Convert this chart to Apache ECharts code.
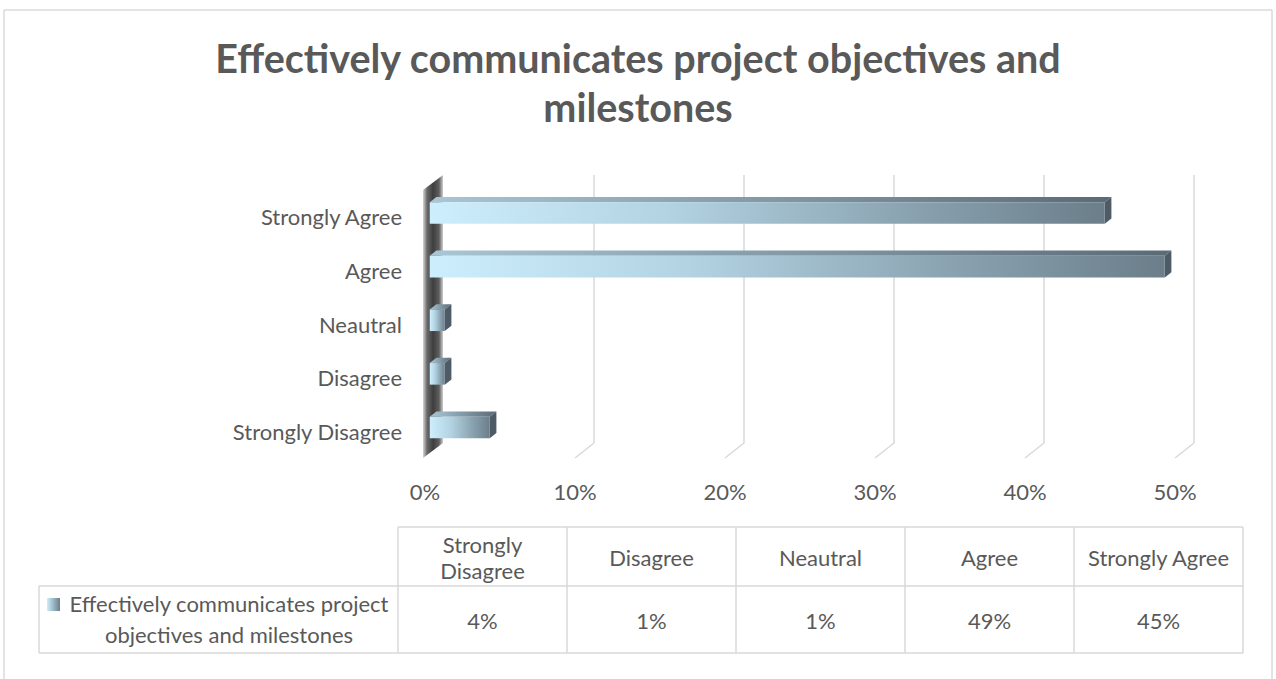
<!DOCTYPE html>
<html><head><meta charset="utf-8">
<script src="https://cdn.jsdelivr.net/npm/echarts@6/dist/echarts.min.js"></script>
<style>html,body{margin:0;padding:0;background:#fff;}#c{width:1276px;height:679px;}</style>
</head><body><div id="c"></div>
<script>
// ---- data ----
const categories = ['Strongly Disagree', 'Disagree', 'Neautral', 'Agree', 'Strongly Agree'];
const values = [0.04, 0.01, 0.01, 0.49, 0.45];
const ticks = [0, 0.1, 0.2, 0.3, 0.4, 0.5];
const seriesName = 'Effectively communicates project objectives and milestones';
const titleText = 'Effectively communicates project objectives and\nmilestones';
const tableHeader = ['Strongly\nDisagree', 'Disagree', 'Neautral', 'Agree', 'Strongly Agree'];
const legendText = 'Effectively communicates project\nobjectives and milestones';

// ---- style ----
const FONT = 'Lato';
const TXT = '#595959';
const GRIDC = '#d9d9d9';
const DX = 19, DY = 15;          // 3D depth of the plot box
const D1 = 0.25, D2 = 0.6;       // bar depth range (fraction)
const BAR_H = 10.8;              // half height of bar front face
const pct = v => Math.round(v * 100) + '%';

const chart = echarts.init(document.getElementById('c'), null, {renderer: 'svg'});

function renderGrid(params, api) {
  const cs = params.coordSys;
  const v = api.value(0);
  if (v === 0) return null;
  const px = api.coord([v, 0])[0];
  const top = cs.y, bot = cs.y + cs.height;
  return {
    type: 'polyline',
    shape: {points: [[px + DX, top - DY], [px + DX, bot - DY], [px, bot]]},
    style: {stroke: GRIDC, lineWidth: 1.5, fill: null}
  };
}

function renderWall(params, api) {
  const cs = params.coordSys;
  const x0 = api.coord([0, 0])[0] - 2;
  const top = cs.y, bot = cs.y + cs.height;
  return {
    type: 'polygon',
    shape: {points: [[x0, top], [x0 + DX + 1, top - DY], [x0 + DX + 1, bot - DY], [x0, bot]]},
    style: {
      fill: new echarts.graphic.LinearGradient(0, 0, 1, 0, [
        {offset: 0, color: '#d6d6d6'},
        {offset: 0.2, color: '#6a6a6a'},
        {offset: 0.5, color: '#3e3e3e'},
        {offset: 0.8, color: '#5e5e5e'},
        {offset: 1, color: '#cfcfcf'}
      ])
    }
  };
}

function renderBar(params, api) {
  const ci = api.value(0), v = api.value(1);
  const p0 = api.coord([0, ci]), p1 = api.coord([v, ci]);
  const fx = DX * D1, fy = -DY * D1;
  const bx = DX * (D2 - D1), by = -DY * (D2 - D1);
  const x0 = p0[0] + fx, x1 = p1[0] + fx, yc = p0[1] + fy;
  const yt = yc - BAR_H, yb = yc + BAR_H;
  return {
    type: 'group',
    children: [
      {type: 'polygon', shape: {points: [[x0, yt], [x1, yt], [x1 + bx, yt + by], [x0 + bx, yt + by]]},
       style: {fill: new echarts.graphic.LinearGradient(0, 0, 1, 0, [
         {offset: 0, color: '#a9c6d6'}, {offset: 1, color: '#5a6b76'}])}},
      {type: 'polygon', shape: {points: [[x1, yt], [x1 + bx, yt + by], [x1 + bx, yb + by], [x1, yb]]},
       style: {fill: '#4c5b66'}},
      {type: 'rect', shape: {x: x0, y: yt, width: x1 - x0, height: yb - yt},
       style: {fill: new echarts.graphic.LinearGradient(0, 0, 1, 0, [
         {offset: 0, color: '#cdeefd'}, {offset: 0.35, color: '#b3d3e3'},
         {offset: 0.7, color: '#8ba4b2'}, {offset: 1, color: '#6b7e8a'}])}}
    ]
  };
}

// ---- data table graphics ----
const T = {left: 398, top: 527, mid: 586, bot: 653, colW: 169, rowLeft: 39};
const tableEls = [];
const line = (x1, y1, x2, y2) => tableEls.push({type: 'line', shape: {x1, y1, x2, y2}, style: {stroke: GRIDC, lineWidth: 1.5}, silent: true});
const right = T.left + T.colW * categories.length;
line(T.left, T.top, right, T.top);
line(T.rowLeft, T.mid, right, T.mid);
line(T.rowLeft, T.bot, right, T.bot);
line(T.rowLeft, T.mid, T.rowLeft, T.bot);
for (let i = 0; i <= categories.length; i++) line(T.left + i * T.colW, T.top, T.left + i * T.colW, T.bot);
tableHeader.forEach((h, i) => {
  tableEls.push({type: 'text', x: T.left + (i + 0.5) * T.colW, y: (T.top + T.mid) / 2 + 1,
    style: {text: h, fill: TXT, font: '22px ' + FONT, align: 'center', verticalAlign: 'middle', lineHeight: 26}});
});
values.forEach((v, i) => {
  tableEls.push({type: 'text', x: T.left + (i + 0.5) * T.colW, y: (T.mid + T.bot) / 2 + 1,
    style: {text: pct(v), fill: TXT, font: '22px ' + FONT, align: 'center', verticalAlign: 'middle'}});
});
tableEls.push({type: 'text', x: 229, y: 619,
  style: {text: legendText, fill: TXT, font: '22px ' + FONT, align: 'center', verticalAlign: 'middle', lineHeight: 31}});
tableEls.push({type: 'rect', shape: {x: 47, y: 598, width: 13, height: 13},
  style: {fill: new echarts.graphic.LinearGradient(0, 0, 1, 0, [
    {offset: 0, color: '#cdeefd'}, {offset: 1, color: '#6b7e8a'}])}});
// chart frame
tableEls.push({type: 'polyline', shape: {points: [[4, 690], [4, 10], [1272, 10], [1272, 690]]},
  style: {stroke: '#c8c8c8', lineWidth: 1, fill: null}, silent: true, z: -1});

chart.setOption({
  backgroundColor: '#fff',
  animation: false,
  title: {
    text: titleText, left: 'center', top: 28,
    textStyle: {fontFamily: FONT, fontWeight: 'bold', fontSize: 39.5, color: TXT, lineHeight: 49}
  },
  grid: {left: 425, top: 190, width: 750, height: 268, containLabel: false},
  xAxis: {
    type: 'value', min: 0, max: 0.5, interval: 0.1,
    axisLine: {show: false}, axisTick: {show: false}, splitLine: {show: false},
    axisLabel: {formatter: pct, color: TXT, fontFamily: FONT, fontSize: 22, margin: 22}
  },
  yAxis: {
    type: 'category', data: categories,
    axisLine: {show: false}, axisTick: {show: false}, splitLine: {show: false},
    axisLabel: {color: TXT, fontFamily: FONT, fontSize: 22, margin: 23}
  },
  graphic: tableEls,
  series: [
    {type: 'custom', name: 'grid', renderItem: renderGrid, data: ticks.map(t => [t]), encode: {x: 0}, silent: true, z: 1},
    {type: 'custom', name: 'wall', renderItem: renderWall, data: [[0]], encode: {x: 0}, silent: true, z: 2},
    {type: 'custom', name: seriesName, renderItem: renderBar,
     data: values.map((v, i) => [i, v]), encode: {y: 0, x: 1}, z: 3}
  ]
});
</script></body></html>
